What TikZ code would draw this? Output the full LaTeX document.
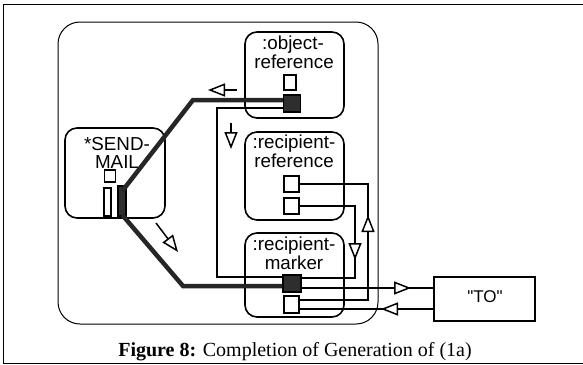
\documentclass[tikz,border=0pt]{standalone}
\usepackage{fontspec}
\setmainfont{Liberation Serif}
\newfontfamily\lsans{Liberation Sans}
\usetikzlibrary{arrows.meta}
\tikzset{
  box/.style={draw, line width=1.6pt, rounded corners=12pt, inner sep=0pt},
  lbl/.style={font=\lsans\fontsize{18.8}{18}\selectfont, inner sep=0pt, anchor=base},
  port/.style={draw, line width=1.3pt, inner sep=0pt, minimum width=15pt, minimum height=16pt},
  fport/.style={port, fill=black!82},
  heavy/.style={line width=4.5pt, draw=black!85, line join=miter},
  bracketline/.style={line width=2.2pt},
  wire/.style={line width=1.2pt},
  dirarrow/.style={line width=1.5pt, -{Triangle[length=17pt, width=13pt, fill=white]}},
}
\begin{document}
\begin{tikzpicture}[x=1pt, y=-1pt]
\useasboundingbox (0,0) rectangle (583,364);
% outer frame
\draw[line width=1pt] (583,4) -- (3,4) -- (3,363) -- (583,363);
% outer rounded box
\node[box, line width=1pt, rounded corners=22pt, minimum width=320pt, minimum height=302pt] (outer) at (218,173) {};
% boxes
\node[box, minimum width=100pt, minimum height=90pt] (sm) at (115,173) {};
\node[box, minimum width=99pt, minimum height=86pt] (obj) at (294.5,75) {};
\node[box, minimum width=99pt, minimum height=88pt] (rref) at (294.5,176) {};
\node[box, minimum width=99pt, minimum height=84pt] (mark) at (294.5,275) {};
\node[draw, line width=1.4pt, inner sep=0pt, minimum width=101pt, minimum height=44pt] (to) at (484.5,299) {};
% labels
\node[lbl] (smt1) at (117,150) {*SEND-};
\node[lbl] (smt2) at (117,168.5) {MAIL};
\node[lbl] (objt1) at (293,49.5) {:object-};
\node[lbl] (objt2) at (294,68) {reference};
\node[lbl] (rreft1) at (294,148.5) {:recipient-};
\node[lbl] (rreft2) at (294,167) {reference};
\node[lbl] (markt1) at (294,250.5) {:recipient-};
\node[lbl] (markt2) at (294,269) {marker};
\node[lbl, font=\lsans\fontsize{17}{17}\selectfont] (tot) at (485,302) {"TO"};
% ports
\node[port, minimum width=11pt, minimum height=12pt] (swp) at (110,176) {};
\node[port, line width=1.6pt, minimum width=7pt, minimum height=28pt] (sop) at (107.5,202) {};
\node[fport, minimum width=8pt, minimum height=30pt] (sf) at (122,201) {};
\node[port, minimum width=12pt, minimum height=15pt] (owp) at (290,82.5) {};
\node[fport, minimum width=17pt, minimum height=17pt] (ofp) at (292,103.5) {};
\node[port] (rp1) at (291.5,184) {};
\node[port] (rp2) at (291.5,206) {};
\node[fport, minimum width=18pt, minimum height=17pt] (mfp) at (292,283.5) {};
\node[port, minimum height=17pt] (mwp) at (291.5,304.5) {};
% bend coordinates
\coordinate (b1) at (193,100);
\coordinate (b2) at (183,286);
\coordinate (c1) at (217,108);
\coordinate (c2) at (217,277);
\coordinate (w1) at (368,300);
\coordinate (w2) at (368,184);
\coordinate (w4) at (355,278);
\coordinate (y288) at (0,288);
\coordinate (y309) at (0,309);
% heavy connectors
\draw[heavy] ([yshift=-6pt]sf.north) -- (b1) -- (ofp.west |- b1);
\draw[heavy] ([yshift=2pt]sf.south) -- (b2) -- (mfp.west |- b2);
% bracket connector
\draw[bracketline] (ofp.west |- c1) -- (c1) -- (c2) -- (mfp.west |- c2);
% thin wires
\draw[wire] (mwp.east |- w1) -- (w1) -- (w2) -- (rp1.east |- w2);
\draw[wire] (rp2.east) -| (w4) -- (mfp.east |- w4);
\draw[wire] (mfp.east |- y288) -- (to.west |- y288);
\draw[wire] (to.west |- y309) -- (mwp.east |- y309);
% direction arrows
\draw[dirarrow] (237,90) -- (208,90);
\draw[dirarrow] (231,123) -- (231,149);
\draw[dirarrow] (156,223) -- (178,252);
\draw[dirarrow] (355,234) -- (355,260);
\draw[dirarrow] (368,242) -- (368,215);
\draw[dirarrow] (384,288) -- (411,288);
\draw[dirarrow] (408,309) -- (381,309);
% caption
\node[inner sep=0pt, anchor=base, font=\fontsize{20}{20}\selectfont] (cap) at (295,356) {\textbf{Figure 8:} Completion of Generation of (1a)};
\end{tikzpicture}
\end{document}
